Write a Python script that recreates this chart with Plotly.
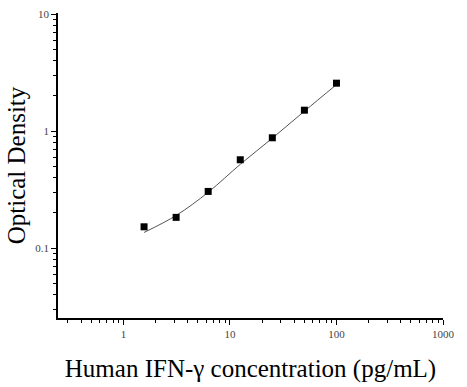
import plotly.graph_objects as go

# data
conc = [1.5625, 3.125, 6.25, 12.5, 25, 50, 100]
od = [0.152, 0.183, 0.305, 0.569, 0.877, 1.51, 2.57]
fit_x = [1.5625, 3.125, 6.25, 12.5, 25, 50, 100]
fit_y = [0.136, 0.19, 0.30, 0.52, 0.87, 1.48, 2.5]

xticks = [1, 10, 100, 1000]
xticklabels = ["1", "10", "100", "1000"]
yticks = [0.1, 1, 10]
yticklabels = ["0.1", "1", "10"]

fig = go.Figure()
fig.add_trace(go.Scatter(x=fit_x, y=fit_y, mode="lines", line=dict(color="#555555", width=1, shape="spline"), showlegend=False))
fig.add_trace(go.Scatter(x=conc, y=od, mode="markers", marker=dict(symbol="square", size=7, color="black"), showlegend=False))

axis_common = dict(
    type="log", showgrid=False, zeroline=False, showline=True, linecolor="black", linewidth=1.5,
    ticks="outside", ticklen=5, tickcolor="black", tickwidth=1, automargin=False,
    tickfont=dict(family="Liberation Serif", size=11, color="#444444"),
    minor=dict(ticks="outside", ticklen=3, tickcolor="black", dtick="D1", showgrid=False),
)

fig.update_xaxes(**axis_common, range=[-0.614, 3.0], tickvals=xticks, ticktext=xticklabels,
                 title=dict(text="Human IFN-γ concentration (pg/mL)", font=dict(family="Liberation Serif", size=25, color="black"), standoff=21))
fig.update_yaxes(**axis_common, range=[-1.598, 1.01], tickvals=yticks, ticktext=yticklabels,
                 title=dict(text="Optical Density", font=dict(family="Liberation Serif", size=25, color="black"), standoff=3))

fig.update_layout(width=467, height=387, margin=dict(l=58, r=24, t=13, b=69),
                  plot_bgcolor="white", paper_bgcolor="white")
fig.write_html("out.html")
